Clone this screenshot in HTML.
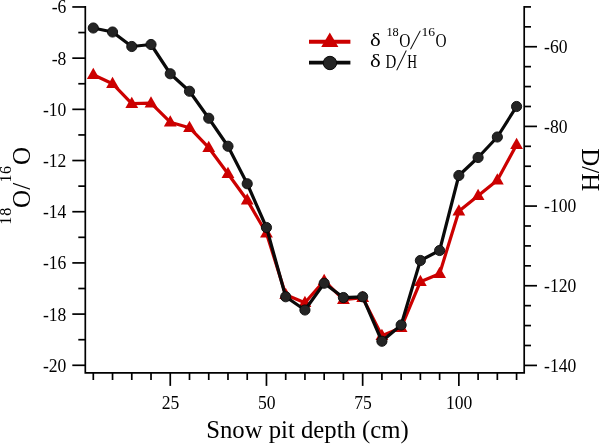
<!DOCTYPE html>
<html><head><meta charset="utf-8"><title>Snow pit isotopes</title>
<style>
html,body{margin:0;padding:0;background:#fff;}
svg{display:block;}
text{font-family:"Liberation Serif",serif;fill:#000;}
.tk{font-size:17.6px;}
.lg{font-family:"Liberation Serif","Noto Serif CJK SC",serif;font-size:19px;}
</style></head><body>
<svg width="600" height="444" viewBox="0 0 600 444">
<rect width="600" height="444" fill="#fff"/>

<g stroke="#000" stroke-width="1.7" fill="none" stroke-linecap="butt">
<path d="M85.3 6.1 V372.8 M84.45 372.8 H525.05 M524.2 6.0 V373.7"/>
<path d="M72.3 6.96 H85.3"/>
<path d="M78.3 32.56 H85.3"/>
<path d="M72.3 58.15 H85.3"/>
<path d="M78.3 83.75 H85.3"/>
<path d="M72.3 109.34 H85.3"/>
<path d="M78.3 134.94 H85.3"/>
<path d="M72.3 160.53 H85.3"/>
<path d="M78.3 186.13 H85.3"/>
<path d="M72.3 211.72 H85.3"/>
<path d="M78.3 237.32 H85.3"/>
<path d="M72.3 262.91 H85.3"/>
<path d="M78.3 288.51 H85.3"/>
<path d="M72.3 314.10 H85.3"/>
<path d="M78.3 339.70 H85.3"/>
<path d="M72.3 365.29 H85.3"/>
<path d="M524.2 6.90 H531"/>
<path d="M524.2 26.82 H531"/>
<path d="M524.2 46.73 H537"/>
<path d="M524.2 66.65 H531"/>
<path d="M524.2 86.57 H531"/>
<path d="M524.2 106.49 H531"/>
<path d="M524.2 126.40 H537"/>
<path d="M524.2 146.32 H531"/>
<path d="M524.2 166.24 H531"/>
<path d="M524.2 186.15 H531"/>
<path d="M524.2 206.07 H537"/>
<path d="M524.2 225.99 H531"/>
<path d="M524.2 245.90 H531"/>
<path d="M524.2 265.82 H531"/>
<path d="M524.2 285.74 H537"/>
<path d="M524.2 305.65 H531"/>
<path d="M524.2 325.57 H531"/>
<path d="M524.2 345.49 H531"/>
<path d="M524.2 365.41 H537"/>
<path d="M93.30 372.8 V380"/>
<path d="M112.54 372.8 V380"/>
<path d="M131.78 372.8 V380"/>
<path d="M151.02 372.8 V380"/>
<path d="M170.26 372.8 V385.9"/>
<path d="M189.50 372.8 V380"/>
<path d="M208.74 372.8 V380"/>
<path d="M227.98 372.8 V380"/>
<path d="M247.22 372.8 V380"/>
<path d="M266.46 372.8 V385.9"/>
<path d="M285.70 372.8 V380"/>
<path d="M304.94 372.8 V380"/>
<path d="M324.18 372.8 V380"/>
<path d="M343.42 372.8 V380"/>
<path d="M362.66 372.8 V385.9"/>
<path d="M381.90 372.8 V380"/>
<path d="M401.14 372.8 V380"/>
<path d="M420.38 372.8 V380"/>
<path d="M439.62 372.8 V380"/>
<path d="M458.86 372.8 V385.9"/>
<path d="M478.10 372.8 V380"/>
<path d="M497.34 372.8 V380"/>
<path d="M516.58 372.8 V380"/>
</g>
<text class="tk" transform="translate(66.4,13.46) scale(1,1.02)" text-anchor="end">-6</text>
<text class="tk" transform="translate(66.4,64.65) scale(1,1.02)" text-anchor="end">-8</text>
<text class="tk" transform="translate(66.4,115.84) scale(1,1.02)" text-anchor="end">-10</text>
<text class="tk" transform="translate(66.4,167.03) scale(1,1.02)" text-anchor="end">-12</text>
<text class="tk" transform="translate(66.4,218.22) scale(1,1.02)" text-anchor="end">-14</text>
<text class="tk" transform="translate(66.4,269.41) scale(1,1.02)" text-anchor="end">-16</text>
<text class="tk" transform="translate(66.4,320.60) scale(1,1.02)" text-anchor="end">-18</text>
<text class="tk" transform="translate(66.4,371.79) scale(1,1.02)" text-anchor="end">-20</text>
<text class="tk" transform="translate(544.1,53.08) scale(1,1.02)">-60</text>
<text class="tk" transform="translate(544.1,132.75) scale(1,1.02)">-80</text>
<text class="tk" transform="translate(544.1,212.42) scale(1,1.02)">-100</text>
<text class="tk" transform="translate(544.1,292.09) scale(1,1.02)">-120</text>
<text class="tk" transform="translate(544.1,371.76) scale(1,1.02)">-140</text>
<text class="tk" transform="translate(170.56,409.3) scale(1,1.02)" text-anchor="middle">25</text>
<text class="tk" transform="translate(266.76,409.3) scale(1,1.02)" text-anchor="middle">50</text>
<text class="tk" transform="translate(362.96,409.3) scale(1,1.02)" text-anchor="middle">75</text>
<text class="tk" transform="translate(459.16,409.3) scale(1,1.02)" text-anchor="middle">100</text>
<text x="206.2" y="437.9" font-size="24.72">Snow pit depth (cm)</text>
<text transform="translate(11,224.7) rotate(-90)" font-size="16" letter-spacing="1">18</text>
<text transform="translate(29.7,208) rotate(-90)" font-size="25" letter-spacing="0">O</text>
<text transform="translate(29.7,189.7) rotate(-90)" font-size="25" letter-spacing="0">/</text>
<text transform="translate(11,182.6) rotate(-90)" font-size="16" letter-spacing="0.5">16</text>
<text transform="translate(29.7,165) rotate(-90)" font-size="25" letter-spacing="0">O</text>
<text transform="translate(582.1,148.3) rotate(90)" font-size="25">D/H</text>
<polyline points="93.30,74.70 112.54,83.70 131.78,103.70 151.02,103.20 170.26,122.20 189.50,127.70 208.74,147.70 227.98,173.70 247.22,200.20 266.46,233.20 285.70,294.70 304.94,302.70 324.18,280.70 343.42,299.70 362.66,297.70 381.90,335.70 401.14,327.70 420.38,281.70 439.62,273.70 458.86,211.20 478.10,195.70 497.34,180.20 516.58,144.70" fill="none" stroke="#cc0000" stroke-width="3.2" stroke-linejoin="round"/>
<path d="M93.30 67.80 L99.70 79.00 H86.90 Z" fill="#cc0000"/>
<path d="M112.54 76.80 L118.94 88.00 H106.14 Z" fill="#cc0000"/>
<path d="M131.78 96.80 L138.18 108.00 H125.38 Z" fill="#cc0000"/>
<path d="M151.02 96.30 L157.42 107.50 H144.62 Z" fill="#cc0000"/>
<path d="M170.26 115.30 L176.66 126.50 H163.86 Z" fill="#cc0000"/>
<path d="M189.50 120.80 L195.90 132.00 H183.10 Z" fill="#cc0000"/>
<path d="M208.74 140.80 L215.14 152.00 H202.34 Z" fill="#cc0000"/>
<path d="M227.98 166.80 L234.38 178.00 H221.58 Z" fill="#cc0000"/>
<path d="M247.22 193.30 L253.62 204.50 H240.82 Z" fill="#cc0000"/>
<path d="M266.46 226.30 L272.86 237.50 H260.06 Z" fill="#cc0000"/>
<path d="M285.70 287.80 L292.10 299.00 H279.30 Z" fill="#cc0000"/>
<path d="M304.94 295.80 L311.34 307.00 H298.54 Z" fill="#cc0000"/>
<path d="M324.18 273.80 L330.58 285.00 H317.78 Z" fill="#cc0000"/>
<path d="M343.42 292.80 L349.82 304.00 H337.02 Z" fill="#cc0000"/>
<path d="M362.66 290.80 L369.06 302.00 H356.26 Z" fill="#cc0000"/>
<path d="M381.90 328.80 L388.30 340.00 H375.50 Z" fill="#cc0000"/>
<path d="M401.14 320.80 L407.54 332.00 H394.74 Z" fill="#cc0000"/>
<path d="M420.38 274.80 L426.78 286.00 H413.98 Z" fill="#cc0000"/>
<path d="M439.62 266.80 L446.02 278.00 H433.22 Z" fill="#cc0000"/>
<path d="M458.86 204.30 L465.26 215.50 H452.46 Z" fill="#cc0000"/>
<path d="M478.10 188.80 L484.50 200.00 H471.70 Z" fill="#cc0000"/>
<path d="M497.34 173.30 L503.74 184.50 H490.94 Z" fill="#cc0000"/>
<path d="M516.58 137.80 L522.98 149.00 H510.18 Z" fill="#cc0000"/>
<polyline points="93.30,28.00 112.54,32.00 131.78,46.50 151.02,44.50 170.26,73.75 189.50,91.25 208.74,118.25 227.98,146.25 247.22,183.75 266.46,227.50 285.70,296.75 304.94,310.00 324.18,283.25 343.42,297.55 362.66,296.80 381.90,341.25 401.14,325.00 420.38,260.50 439.62,250.50 458.86,175.50 478.10,157.50 497.34,137.00 516.58,106.50" fill="none" stroke="#0a0a0a" stroke-width="3.2" stroke-linejoin="round"/>
<circle cx="93.30" cy="28.00" r="5.1" fill="#242424" stroke="#080808" stroke-width="0.9"/>
<circle cx="112.54" cy="32.00" r="5.1" fill="#242424" stroke="#080808" stroke-width="0.9"/>
<circle cx="131.78" cy="46.50" r="5.1" fill="#242424" stroke="#080808" stroke-width="0.9"/>
<circle cx="151.02" cy="44.50" r="5.1" fill="#242424" stroke="#080808" stroke-width="0.9"/>
<circle cx="170.26" cy="73.75" r="5.1" fill="#242424" stroke="#080808" stroke-width="0.9"/>
<circle cx="189.50" cy="91.25" r="5.1" fill="#242424" stroke="#080808" stroke-width="0.9"/>
<circle cx="208.74" cy="118.25" r="5.1" fill="#242424" stroke="#080808" stroke-width="0.9"/>
<circle cx="227.98" cy="146.25" r="5.1" fill="#242424" stroke="#080808" stroke-width="0.9"/>
<circle cx="247.22" cy="183.75" r="5.1" fill="#242424" stroke="#080808" stroke-width="0.9"/>
<circle cx="266.46" cy="227.50" r="5.1" fill="#242424" stroke="#080808" stroke-width="0.9"/>
<circle cx="285.70" cy="296.75" r="5.1" fill="#242424" stroke="#080808" stroke-width="0.9"/>
<circle cx="304.94" cy="310.00" r="5.1" fill="#242424" stroke="#080808" stroke-width="0.9"/>
<circle cx="324.18" cy="283.25" r="5.1" fill="#242424" stroke="#080808" stroke-width="0.9"/>
<circle cx="343.42" cy="297.55" r="5.1" fill="#242424" stroke="#080808" stroke-width="0.9"/>
<circle cx="362.66" cy="296.80" r="5.1" fill="#242424" stroke="#080808" stroke-width="0.9"/>
<circle cx="381.90" cy="341.25" r="5.1" fill="#242424" stroke="#080808" stroke-width="0.9"/>
<circle cx="401.14" cy="325.00" r="5.1" fill="#242424" stroke="#080808" stroke-width="0.9"/>
<circle cx="420.38" cy="260.50" r="5.1" fill="#242424" stroke="#080808" stroke-width="0.9"/>
<circle cx="439.62" cy="250.50" r="5.1" fill="#242424" stroke="#080808" stroke-width="0.9"/>
<circle cx="458.86" cy="175.50" r="5.1" fill="#242424" stroke="#080808" stroke-width="0.9"/>
<circle cx="478.10" cy="157.50" r="5.1" fill="#242424" stroke="#080808" stroke-width="0.9"/>
<circle cx="497.34" cy="137.00" r="5.1" fill="#242424" stroke="#080808" stroke-width="0.9"/>
<circle cx="516.58" cy="106.50" r="5.1" fill="#242424" stroke="#080808" stroke-width="0.9"/>
<path d="M309 41.75 H350.4" stroke="#cc0000" stroke-width="3.9"/>
<path d="M329.8 32.4 L338.4 46.9 H321.2 Z" fill="#cc0000"/>
<path d="M309 62.65 H350.4" stroke="#0a0a0a" stroke-width="3.9"/>
<circle cx="329.95" cy="63" r="6.7" fill="#242424" stroke="#080808" stroke-width="1"/>
<text transform="translate(370.09,45.80) scale(1.164,1)" font-size="19.57">δ</text>
<text transform="translate(386.38,35.68) scale(1.034,1)" font-size="12.00">18</text>
<text transform="translate(399.18,47.21) scale(0.836,1)" font-size="18.51">O</text>
<text transform="translate(410.07,49.02) skewX(-14.08) scale(0.821,1)" font-size="27.52">/</text>
<text transform="translate(421.47,35.68) scale(1.128,1)" font-size="12.09">16</text>
<text transform="translate(435.59,47.21) scale(0.827,1)" font-size="18.51">O</text>
<text transform="translate(370.09,66.50) scale(1.147,1)" font-size="19.86">δ</text>
<text transform="translate(385.55,67.60) scale(0.776,1)" font-size="19.24">D</text>
<text transform="translate(396.26,70.00) skewX(-12.23) scale(0.758,1)" font-size="29.77">/</text>
<text transform="translate(407.29,67.60) scale(0.704,1)" font-size="19.24">H</text>
</svg></body></html>
